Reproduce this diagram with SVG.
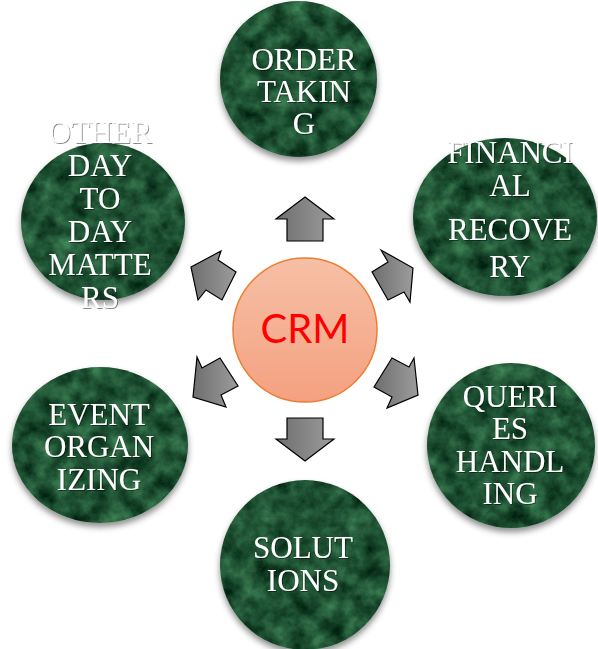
<svg xmlns="http://www.w3.org/2000/svg" width="598" height="649" viewBox="0 0 598 649">
  <style>
    .lbl { font-family: "Liberation Serif", "Times New Roman", serif; font-size: 31px; fill: #ffffff; text-anchor: middle; }
    .arrow { fill: url(#arrowFill); stroke: #000000; stroke-width: 1.2; stroke-linejoin: miter; }
    .ball { filter: url(#marble); fill: #000; }
    .crm { font-family: Lato, "Liberation Sans", Arial, sans-serif; font-size: 40px; fill: #ff0000; text-anchor: middle; }
  </style>
  <defs>
    <!-- green marble texture clipped to the shape it is applied to -->
    <filter id="marble" x="-5%" y="-5%" width="110%" height="110%" color-interpolation-filters="sRGB">
      <feTurbulence type="fractalNoise" baseFrequency="0.055" numOctaves="5" seed="7" result="n"/>
      <feColorMatrix in="n" type="matrix" values="0.32 0 0 0 -0.04  0.5 0 0 0 0.07  0.36 0 0 0 0.02  0 0 0 0 1" result="c"/>
      <feComposite in="c" in2="SourceGraphic" operator="in"/>
    </filter>
    <!-- soft shadow under each ball -->
    <filter id="drop" x="-10%" y="-10%" width="120%" height="125%">
      <feDropShadow dx="0" dy="4" stdDeviation="3" flood-color="#000" flood-opacity="0.45"/>
    </filter>
    <filter id="textShade" x="-10%" y="-10%" width="120%" height="130%">
      <feDropShadow dx="1" dy="1" stdDeviation="0.7" flood-color="#000" flood-opacity="0.45"/>
    </filter>
    <linearGradient id="arrowFill" x1="0" y1="0" x2="1" y2="0">
      <stop offset="0" stop-color="#6e6e6e"/>
      <stop offset="1" stop-color="#9c9c9c"/>
    </linearGradient>
    <linearGradient id="hubFill" x1="0" y1="0" x2="0" y2="1">
      <stop offset="0" stop-color="#f6c0a6"/>
      <stop offset="1" stop-color="#f4a180"/>
    </linearGradient>
  </defs>

  <rect width="598" height="649" fill="#ffffff"/>

  <!-- outer topic balls -->
  <g id="order-taking">
    <g filter="url(#drop)"><ellipse class="ball" cx="298.5" cy="79" rx="78.5" ry="78"/></g>
    <g filter="url(#textShade)">
      <text class="lbl" x="304" y="70">ORDER</text>
      <text class="lbl" x="304" y="102">TAKIN</text>
      <text class="lbl" x="304" y="134">G</text>
    </g>
  </g>

  <g id="financial-recovery">
    <g filter="url(#drop)"><ellipse class="ball" cx="505" cy="217" rx="92" ry="79"/></g>
    <g filter="url(#textShade)">
      <text class="lbl" x="510" y="163">FINANCI</text>
      <text class="lbl" x="510" y="196">AL</text>
      <text class="lbl" x="510" y="240">RECOVE</text>
      <text class="lbl" x="510" y="277">RY</text>
    </g>
  </g>

  <g id="queries-handling">
    <g filter="url(#drop)"><ellipse class="ball" cx="511" cy="445.5" rx="84" ry="82.5"/></g>
    <g filter="url(#textShade)">
      <text class="lbl" x="510" y="407">QUERI</text>
      <text class="lbl" x="510" y="439">ES</text>
      <text class="lbl" x="510" y="472">HANDL</text>
      <text class="lbl" x="510" y="504">ING</text>
    </g>
  </g>

  <g id="solutions">
    <g filter="url(#drop)"><ellipse class="ball" cx="305" cy="565" rx="85" ry="85"/></g>
    <g filter="url(#textShade)">
      <text class="lbl" x="303" y="558">SOLUT</text>
      <text class="lbl" x="303" y="591">IONS</text>
    </g>
  </g>

  <g id="event-organizing">
    <g filter="url(#drop)"><ellipse class="ball" cx="100" cy="445" rx="88" ry="78"/></g>
    <g filter="url(#textShade)">
      <text class="lbl" x="99" y="425">EVENT</text>
      <text class="lbl" x="99" y="457">ORGAN</text>
      <text class="lbl" x="99" y="490">IZING</text>
    </g>
  </g>

  <g id="other-matters">
    <g filter="url(#drop)"><ellipse class="ball" cx="103" cy="221.5" rx="82" ry="78.5"/></g>
    <g filter="url(#textShade)">
      <text class="lbl" x="100" y="143">OTHER</text>
      <text class="lbl" x="100" y="176">DAY</text>
      <text class="lbl" x="100" y="209">TO</text>
      <text class="lbl" x="100" y="242">DAY</text>
      <text class="lbl" x="100" y="275">MATTE</text>
      <text class="lbl" x="100" y="308">RS</text>
    </g>
  </g>

  <!-- block arrows radiating from the hub -->
  <g id="connectors">
    <polygon class="arrow" points="305,197 334,219 323,219 323,241 287,241 287,219 276,219"/>
    <polygon class="arrow" points="381,250 388,262 372,272 388,300 404,292 410,302 413,268"/>
    <polygon class="arrow" points="414,358 409,367 392,358 374,387 392,397 387,408 418,395"/>
    <polygon class="arrow" points="287,418 323,418 323,439 334,439 305,461 276,439 287,439"/>
    <polygon class="arrow" points="197,357 202,368 220,358 238,386 221,395 226,407 193,397"/>
    <polygon class="arrow" points="191,267 221,251 218,260 236,272 222,300 206,290 198,300"/>
  </g>

  <!-- central hub -->
  <g id="crm">
    <circle cx="305" cy="330" r="72" fill="url(#hubFill)" stroke="#ed7d31" stroke-width="1.5"/>
    <text class="crm" x="305" y="343">CRM</text>
  </g>
</svg>
